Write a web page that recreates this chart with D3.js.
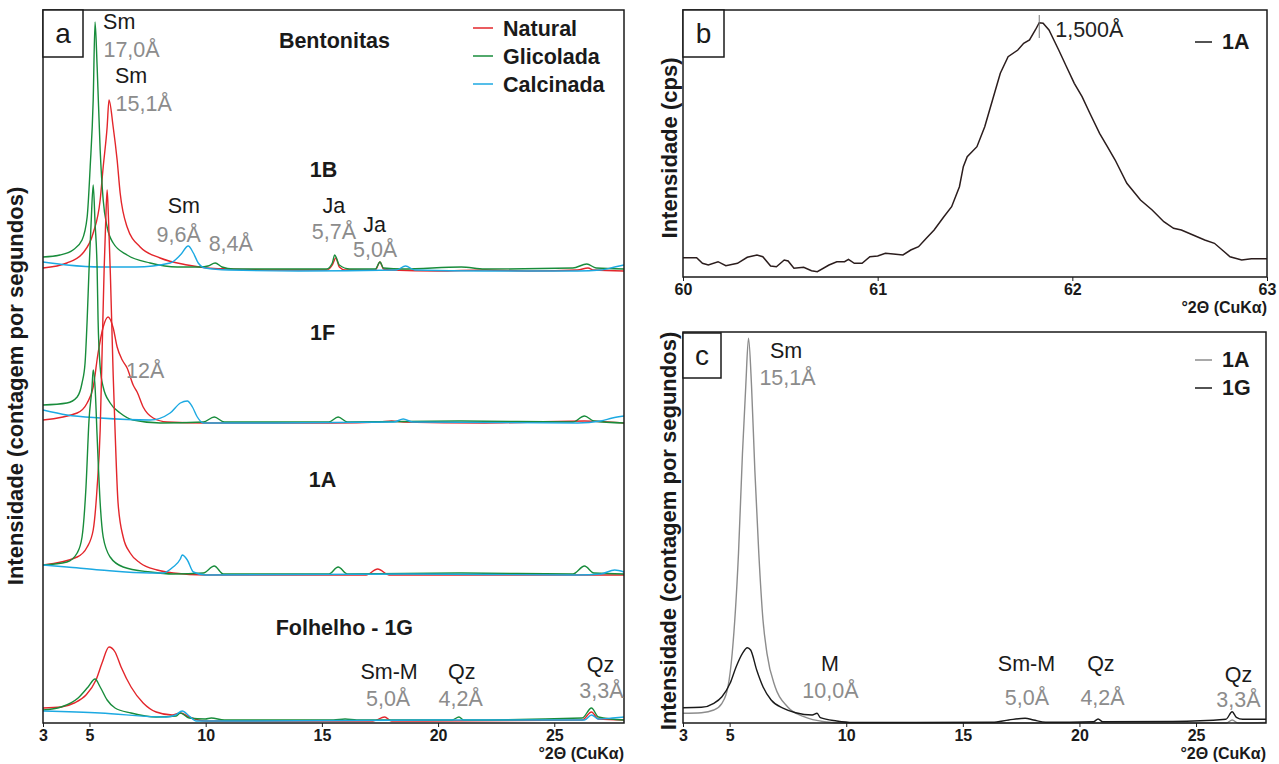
<!DOCTYPE html>
<html>
<head>
<meta charset="UTF-8">
<script src="https://cdn.jsdelivr.net/npm/d3@7"></script>
<style>
	body{ margin:0; background:#fff; }
	text{ font-family: 'Liberation Sans', Arial, sans-serif; }
</style>
</head>
<body>
<svg id="chart" width="1279" height="764"></svg>
<script>
	// ---- Panel a : bentonitas + folhelho, [2theta, height above sample baseline] ----
	var a1B_natural = [[3,3],[4.03,8],[4.72,18],[5.16,38],[5.46,71],[5.59,104],[5.76,144],[5.84,171],[6.02,144],[6.19,111],[6.32,78],[6.62,44],[7.18,24],[8.04,13],[9.21,6],[10.07,3],[11,2],[13,1],[15.2,1],[15.45,6],[15.6,13],[15.75,4],[16,1],[17.3,1],[17.5,9],[17.65,2],[18,1],[20,0],[22,1],[24,0],[26,1],[26.45,3],[26.7,1],[28,0]];
	var a1B_glicolada = [[3,14],[3.73,16],[4.29,21],[4.68,31],[4.9,54],[5.03,104],[5.16,171],[5.24,249],[5.33,204],[5.46,121],[5.59,71],[5.76,44],[6.02,28],[6.62,16],[7.61,8],[8.78,4],[9.77,4],[10.1,5],[10.41,8],[10.7,4],[11.2,2],[13,2],[15.2,2],[15.45,8],[15.55,16],[15.75,6],[16.2,2],[17.3,2],[17.5,9],[17.65,3],[18.5,2],[21,4],[22,2],[25.8,3],[26.4,7],[26.8,3],[28,2]];
	var a1B_calcinada = [[3,9],[4.03,6],[5.5,4],[7,4],[8.47,8],[8.91,16],[9.25,25],[9.47,18],[9.68,8],[9.98,3],[11,1],[14,0],[18.2,1],[18.6,5],[19,1],[22,0],[26,0],[27,1],[27.6,4],[28,6]];

	var a1F_natural = [[3,3],[4.47,10],[4.9,20],[5.16,36],[5.37,70],[5.59,96],[5.8,106],[6.02,95],[6.19,76],[6.41,63],[6.62,55],[6.88,38],[7.05,31],[7.31,16],[7.74,5],[8.34,1],[10,0],[15.5,0],[17.5,1],[18,2],[18.5,1],[22,0],[26.3,2],[28,0]];
	var a1F_glicolada = [[3,18],[4.03,20],[4.47,26],[4.68,40],[4.81,60],[4.9,103],[4.98,153],[5.07,200],[5.16,238],[5.24,200],[5.33,153],[5.37,103],[5.46,56],[5.59,36],[5.89,20],[6.32,10],[6.88,3],[8.04,0],[9.9,1],[10.37,6],[10.8,1],[15.3,1],[15.7,6],[16.1,1],[21,2],[25.8,1],[26.3,7],[26.7,2],[28,0]];
	var a1F_calcinada = [[3,13],[4.03,8],[5.46,5],[7.61,3],[8.47,10],[8.91,20],[9.21,22],[9.43,16],[9.64,6],[9.9,0],[12,0],[18.1,1],[18.5,4],[18.9,1],[26,0],[27,2],[27.5,5],[28,7]];

	var a1A_natural = [[3,10],[4.47,18],[4.9,28],[5.16,45],[5.33,88],[5.46,145],[5.55,230],[5.63,305],[5.7,355],[5.76,385],[5.82,355],[5.9,300],[6.02,200],[6.1,145],[6.23,72],[6.45,38],[6.75,22],[7.18,12],[7.91,5],[8.6,2],[10,0],[16.9,0],[17.4,6],[17.9,0],[28,0]];
	var a1A_glicolada = [[3,10],[4.03,13],[4.47,22],[4.68,38],[4.85,88],[4.98,155],[5.11,188],[5.16,205],[5.24,188],[5.33,138],[5.46,72],[5.59,38],[5.89,18],[6.45,8],[7.61,3],[8.6,1],[9.9,2],[10.37,9],[10.76,1],[15.3,1],[15.7,8],[16.1,1],[21,2],[25.8,1],[26.3,9],[26.7,2],[28,1]];
	var a1A_calcinada = [[3,10],[4.03,8],[5.46,5],[7.61,2],[8.17,2],[8.6,8],[8.91,16],[8.99,20],[9.21,15],[9.47,3],[10,0],[18.6,1],[26,0],[27,1],[27.6,5],[28,3]];

	var a1G_natural = [[3,13],[3.78,14],[4.34,18],[4.85,26],[5.28,41],[5.54,58],[5.84,74],[6.1,69],[6.36,54],[6.79,34],[7.31,18],[7.87,9],[8.56,6],[8.91,8],[9.29,4],[9.98,0],[17.2,0],[17.7,4],[18,0],[26.2,1],[26.6,9],[26.9,2],[28,1]];
	var a1G_glicolada = [[3,11],[3.78,14],[4.51,23],[4.94,34],[5.24,42],[5.46,34],[5.76,21],[6.1,13],[6.79,8],[7.87,4],[8.73,5],[8.91,8],[9.29,3],[9.98,2],[10.24,3],[10.8,1],[15.5,1],[16,2],[16.5,1],[20.6,1],[20.9,4],[21.1,1],[26.2,3],[26.6,13],[26.9,4],[28,1]];
	var a1G_calcinada = [[3,10],[5.46,8],[8.3,4],[8.7,6],[8.99,10],[9.29,5],[9.59,0],[12,0],[20,1],[26.3,1],[26.6,6],[26.9,2],[27.5,3],[28,4]];

	// vertical offset of each stacked sample (same units as heights)
	var sampleNames = ["1B", "1F", "1A", "1G"];
	var sampleOffsets = [452, 300, 148, 2];
	var treatments = ["Natural", "Glicolada", "Calcinada"];

	// ---- Panel b : 1A, 60-63 deg ----
	var b1A = [[60.0,19.3],[60.07,19.3],[60.1,13.7],[60.13,12],[60.18,15.3],[60.22,11.3],[60.28,13.7],[60.33,19.7],[60.38,22],[60.41,20.3],[60.45,11],[60.48,10.3],[60.52,17],[60.54,16],[60.57,8.7],[60.62,9.7],[60.66,6.3],[60.69,5.3],[60.75,12],[60.79,15.3],[60.83,15.3],[60.85,17.7],[60.88,13.7],[60.92,13.7],[60.96,20.3],[61.0,21],[61.04,23.7],[61.08,23],[61.13,22],[61.17,27],[61.21,30.3],[61.25,38.7],[61.29,47],[61.34,60.3],[61.38,70.3],[61.42,90.3],[61.44,110.3],[61.46,120.3],[61.51,130.3],[61.55,150.3],[61.59,177],[61.63,203.7],[61.67,220.3],[61.72,227],[61.75,233.7],[61.78,237],[61.81,247],[61.83,254.3],[61.85,253.7],[61.88,247],[61.93,227],[61.97,210.3],[62.01,193.7],[62.05,180.3],[62.09,163.7],[62.14,143.7],[62.18,130.3],[62.22,117],[62.28,93.7],[62.35,77],[62.41,67],[62.47,55.3],[62.52,48.7],[62.56,47],[62.62,42],[62.68,37],[62.73,33.7],[62.77,27],[62.81,20.3],[62.87,17],[62.92,18.3],[63.0,18.3]];

	// ---- Panel c : 1A vs 1G ----
	var c1A = [[3,9.7],[3.79,10.3],[4.32,13],[4.67,19.7],[4.93,36.3],[5.11,69.7],[5.38,169.7],[5.55,269.7],[5.69,336.3],[5.81,384.7],[5.94,336.3],[6.08,253],[6.25,169.7],[6.43,103],[6.6,69.7],[6.95,36.3],[7.48,16.3],[8.18,6.3],[9.06,1.3],[9.94,0],[15,0],[20,0],[26.3,0],[26.55,3],[26.8,0],[28,0.5]];
	var c1G = [[3,15.3],[3.79,15.7],[4.32,19.7],[4.67,26.3],[5.02,39.7],[5.28,56.3],[5.55,69.7],[5.76,75.3],[5.9,73],[6.16,53],[6.43,36.3],[6.78,23],[7.31,14.7],[7.83,10.3],[8.54,8],[8.75,9.7],[8.89,5.3],[9.59,2],[10.29,0.5],[13,0.5],[16.27,0.7],[16.97,3],[17.67,4.7],[18.03,3],[18.55,0.7],[20.6,1.3],[20.8,4],[21,1.3],[24,1.5],[26.28,3.7],[26.55,11.3],[26.73,5.7],[27,3.7],[28,3.7]];

	// ---- Axis ticks ----
	var ticksA = d3.range(3, 29, 1);
	var labelsA = [3, 5, 10, 15, 20, 25];
	var ticksB = d3.range(600, 631, 1).map(function(d){ return d / 10; });
	var labelsB = [60, 61, 62, 63];

	// ---- Peak annotations: [text, 2theta, height, black/gray] ----
	var annotA = [["Sm",6.28,694,"k"],["17,0Å",6.81,666,"g"],["Sm",6.79,640,"k"],["15,1Å",7.33,612,"g"],["Sm",9.06,510,"k"],["9,6Å",8.84,481,"g"],["8,4Å",11.08,472,"g"],["Ja",15.52,510,"k"],["5,7Å",15.52,484,"g"],["Ja",17.27,491,"k"],["5,0Å",17.29,466,"g"],["12Å",7.40,345,"g"],["Sm-M",17.89,44,"k"],["5,0Å",17.85,17,"g"],["Qz",21.02,44,"k"],["4,2Å",20.97,17,"g"],["Qz",26.99,51,"k"],["3,3Å",27.03,25,"g"]];
	var titlesA = [["Bentonitas",15.54,675],["1B",15.07,546],["1F",15.03,383],["1A",15.03,236],["Folhelho - 1G",15.97,88]];
	var annotC = [["Sm",7.42,365,"k"],["15,1Å",7.48,338,"g"],["M",9.30,52,"k"],["10,0Å",9.32,25,"g"],["Sm-M",17.73,52,"k"],["5,0Å",17.75,18,"g"],["Qz",20.92,52,"k"],["4,2Å",20.99,18,"g"],["Qz",26.82,41,"k"],["3,3Å",26.82,16,"g"]];
	var peakB = [61.83, "1,500Å"];


	var svg = d3.select("#chart");
	var colors = {"Natural": "#e3262b", "Glicolada": "#188c3b", "Calcinada": "#1ca9e2"};
	var grayText = "#8c8c8c";
	var ink = "#1a1a1a";
	var fs = 21.5;

	var seriesA = {
		"1B": [a1B_natural, a1B_glicolada, a1B_calcinada],
		"1F": [a1F_natural, a1F_glicolada, a1F_calcinada],
		"1A": [a1A_natural, a1A_glicolada, a1A_calcinada],
		"1G": [a1G_natural, a1G_glicolada, a1G_calcinada]
	};

	// Scales
	var xA = d3.scaleLinear().domain([3, 28]).range([43, 624]);
	var yA = d3.scaleLinear().domain([0, 713]).range([723, 10]);
	var xB = d3.scaleLinear().domain([60, 63]).range([683, 1267]);
	var yB = d3.scaleLinear().domain([0, 267]).range([277, 10]);
	var xC = d3.scaleLinear().domain([3, 28]).range([683, 1266]);
	var yC = d3.scaleLinear().domain([0, 391]).range([723, 332]);

	// Draw frame box for a panel
	function frame(x, y){
		var r = x.range(), t = y.range();
		svg.append("rect")
			.attr("x", r[0]).attr("y", t[1])
			.attr("width", r[1] - r[0]).attr("height", t[0] - t[1])
			.attr("fill", "none").attr("stroke", ink).attr("stroke-width", 1.5);
	}

	// Bottom axis with unlabelled minor ticks
	function bottomAxis(x, y0, ticks, labels, fmt){
		var g = svg.append("g").attr("transform", "translate(0," + y0 + ")");
		g.call(d3.axisBottom(x).tickValues(ticks).tickSize(4).tickFormat(""));
		g.call(d3.axisBottom(x).tickValues(labels).tickSize(4).tickPadding(3).tickFormat(fmt));
		g.selectAll(".domain").remove();
		g.selectAll("line").attr("stroke", ink);
		g.selectAll("text")
			.attr("font-family", "'Liberation Sans', Arial, sans-serif")
			.attr("font-size", 16).attr("font-weight", "bold").attr("fill", ink);
		svg.append("text")
			.attr("x", x.range()[1]).attr("y", y0 + 36)
			.attr("text-anchor", "end")
			.attr("font-size", 16).attr("font-weight", "bold").attr("fill", ink)
			.text("°2Θ (CuKα)");
	}

	function yLabel(txt, x0, yMid){
		svg.append("text")
			.attr("transform", "translate(" + x0 + "," + yMid + ") rotate(-90)")
			.attr("text-anchor", "middle")
			.attr("font-size", 22).attr("font-weight", "bold").attr("fill", ink)
			.text(txt);
	}

	function panelTag(letter, x0, y0, w, h){
		svg.append("rect").attr("x", x0).attr("y", y0).attr("width", w).attr("height", h)
			.attr("fill", "#fff").attr("stroke", ink).attr("stroke-width", 1.5);
		svg.append("text").attr("x", x0 + w/2).attr("y", y0 + h/2 + 9)
			.attr("text-anchor", "middle").attr("font-size", 28).attr("fill", ink)
			.text(letter);
	}

	function annotate(list, x, y){
		svg.append("g").selectAll("text")
			.data(list).enter()
			.append("text")
			.attr("x", function(d){ return x(d[1]); })
			.attr("y", function(d){ return y(d[2]); })
			.attr("text-anchor", "middle")
			.attr("font-size", fs)
			.attr("fill", function(d){ return d[3] == "g" ? grayText : ink; })
			.text(function(d){ return d[0]; });
	}

	// ---------- Panel a ----------
	var clipA = svg.append("clipPath").attr("id", "clipA")
		.append("rect").attr("x", 43).attr("y", 10).attr("width", 581).attr("height", 713);

	var curvesA = svg.append("g").attr("clip-path", "url(#clipA)");
	sampleNames.forEach(function(name, i){
		var off = sampleOffsets[i];
		var line = d3.line()
			.x(function(d){ return xA(d[0]); })
			.y(function(d){ return yA(off + d[1]); })
			.curve(d3.curveMonotoneX);
		seriesA[name].forEach(function(pts, j){
			curvesA.append("path")
				.datum(pts)
				.attr("d", line)
				.attr("fill", "none")
				.attr("stroke", colors[treatments[j]])
				.attr("stroke-width", 1.4);
		});
	});

	frame(xA, yA);
	bottomAxis(xA, 723, ticksA, labelsA, d3.format("d"));
	yLabel("Intensidade (contagem por segundos)", 23, 386);
	annotate(annotA, xA, yA);

	svg.append("g").selectAll("text")
		.data(titlesA).enter()
		.append("text")
		.attr("x", function(d){ return xA(d[1]); })
		.attr("y", function(d){ return yA(d[2]); })
		.attr("text-anchor", "middle")
		.attr("font-size", fs).attr("font-weight", "bold").attr("fill", ink)
		.text(function(d){ return d[0]; });

	// legend
	var legA = svg.append("g").attr("transform", "translate(473,28)");
	treatments.forEach(function(t, i){
		legA.append("line").attr("x1", 0).attr("x2", 20).attr("y1", i*28).attr("y2", i*28)
			.attr("stroke", colors[t]).attr("stroke-width", 1.5);
		legA.append("text").attr("x", 30).attr("y", i*28 + 8)
			.attr("font-size", fs).attr("font-weight", "bold").attr("fill", ink)
			.text(t);
	});
	panelTag("a", 43, 10, 40, 47);

	// ---------- Panel b ----------
	var lineB = d3.line()
		.x(function(d){ return xB(d[0]); })
		.y(function(d){ return yB(d[1]); });
	svg.append("path").datum(b1A).attr("d", lineB)
		.attr("fill", "none").attr("stroke", "#2b1d1d").attr("stroke-width", 1.5);

	svg.append("line")
		.attr("x1", xB(peakB[0])).attr("x2", xB(peakB[0]))
		.attr("y1", yB(262)).attr("y2", yB(239))
		.attr("stroke", "#777").attr("stroke-width", 1);
	svg.append("text").attr("x", xB(peakB[0]) + 16).attr("y", yB(240))
		.attr("font-size", fs).attr("fill", "#222").text(peakB[1]);

	frame(xB, yB);
	bottomAxis(xB, 277, ticksB, labelsB, d3.format("d"));
	yLabel("Intensidade (cps)", 677, 148);

	svg.append("line").attr("x1", 1195).attr("x2", 1212).attr("y1", 42).attr("y2", 42)
		.attr("stroke", ink).attr("stroke-width", 1.5);
	svg.append("text").attr("x", 1222).attr("y", 49)
		.attr("font-size", fs).attr("font-weight", "bold").attr("fill", ink).text("1A");
	panelTag("b", 683, 10, 41, 47);

	// ---------- Panel c ----------
	var lineC = d3.line()
		.x(function(d){ return xC(d[0]); })
		.y(function(d){ return yC(d[1]); })
		.curve(d3.curveMonotoneX);
	var seriesC = [["1A", c1A, "#8c8c8c"], ["1G", c1G, ink]];
	seriesC.forEach(function(s){
		svg.append("path").datum(s[1]).attr("d", lineC)
			.attr("fill", "none").attr("stroke", s[2]).attr("stroke-width", 1.4);
	});

	frame(xC, yC);
	bottomAxis(xC, 723, ticksA, labelsA, d3.format("d"));
	yLabel("Intensidade (contagem por segundos)", 676, 531);
	annotate(annotC, xC, yC);

	seriesC.forEach(function(s, i){
		svg.append("line").attr("x1", 1195).attr("x2", 1212).attr("y1", 360 + i*28).attr("y2", 360 + i*28)
			.attr("stroke", s[2]).attr("stroke-width", 1.5);
		svg.append("text").attr("x", 1222).attr("y", 367 + i*28)
			.attr("font-size", fs).attr("font-weight", "bold").attr("fill", ink).text(s[0]);
	});
	panelTag("c", 683, 333, 38, 45);
</script>
</body>
</html>
